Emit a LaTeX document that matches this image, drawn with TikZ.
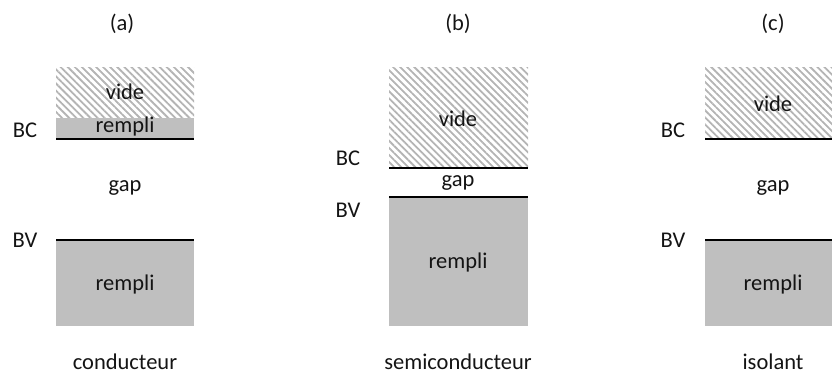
\documentclass[tikz,border=0pt]{standalone}
\usepackage{fontspec}
\setmainfont{Carlito}
\usetikzlibrary{patterns.meta}
\definecolor{fillgrey}{RGB}{191,191,191}
\definecolor{hatchgrey}{RGB}{180,180,180}
\definecolor{txt}{RGB}{20,20,20}
\begin{document}
\begin{tikzpicture}[x=1pt,y=-1pt,
  lbl/.style={inner sep=0pt,text=txt,font=\fontsize{22.5}{27}\selectfont},
  hatched/.style={pattern={Lines[angle=-45,distance=5pt,line width=1.8pt]},pattern color=hatchgrey},
  filled/.style={fill=fillgrey},
  level/.style={line width=2pt,black}]
\useasboundingbox (0,0) rectangle (832,374);
\clip (0,0) rectangle (832,374);
% (a) conducteur
\node[lbl] (ta) at (122,24) {(a)};
\fill[hatched] (56,68) rectangle (194,118);
\fill[filled] (56,118) rectangle (194,139);
\coordinate (abcL) at (56,139); \coordinate (abcR) at (194,139);
\draw[level] (abcL) -- (abcR);
\node[lbl] (avide) at (125,92) {vide};
\node[lbl] (arempli1) at (125,127) {rempli};
\node[lbl] (abc) at (25,130) {BC};
\node[lbl] (agap) at (125,188) {gap};
\fill[filled] (56,240) rectangle (194,326);
\coordinate (abvL) at (56,240); \coordinate (abvR) at (194,240);
\draw[level] (abvL) -- (abvR);
\node[lbl] (abv) at (25,240) {BV};
\node[lbl] (arempli2) at (125,284) {rempli};
\node[lbl] (aname) at (125,362) {conducteur};
% (b) semiconducteur
\node[lbl] (tb) at (458,24) {(b)};
\fill[hatched] (389,68) rectangle (528,168);
\coordinate (bbcL) at (389,168); \coordinate (bbcR) at (528,168);
\draw[level] (bbcL) -- (bbcR);
\node[lbl] (bvide) at (458,119) {vide};
\node[lbl] (bbc) at (348,158) {BC};
\node[lbl] (bgap) at (458,183) {gap};
\fill[filled] (389,197) rectangle (528,326);
\coordinate (bbvL) at (389,197); \coordinate (bbvR) at (528,197);
\draw[level] (bbvL) -- (bbvR);
\node[lbl] (bbv) at (348,210) {BV};
\node[lbl] (brempli) at (458,263) {rempli};
\node[lbl] (bname) at (458,362) {semiconducteur};
% (c) isolant
\node[lbl] (tc) at (773,24) {(c)};
\fill[hatched] (705,68) rectangle (843,139);
\coordinate (cbcL) at (705,139); \coordinate (cbcR) at (843,139);
\draw[level] (cbcL) -- (cbcR);
\node[lbl] (cvide) at (773,104) {vide};
\node[lbl] (cbc) at (673,130) {BC};
\node[lbl] (cgap) at (773,188) {gap};
\fill[filled] (705,240) rectangle (843,326);
\coordinate (cbvL) at (705,240); \coordinate (cbvR) at (843,240);
\draw[level] (cbvL) -- (cbvR);
\node[lbl] (cbv) at (673,240) {BV};
\node[lbl] (crempli) at (773,284) {rempli};
\node[lbl] (cname) at (773,362) {isolant};
\end{tikzpicture}
\end{document}
